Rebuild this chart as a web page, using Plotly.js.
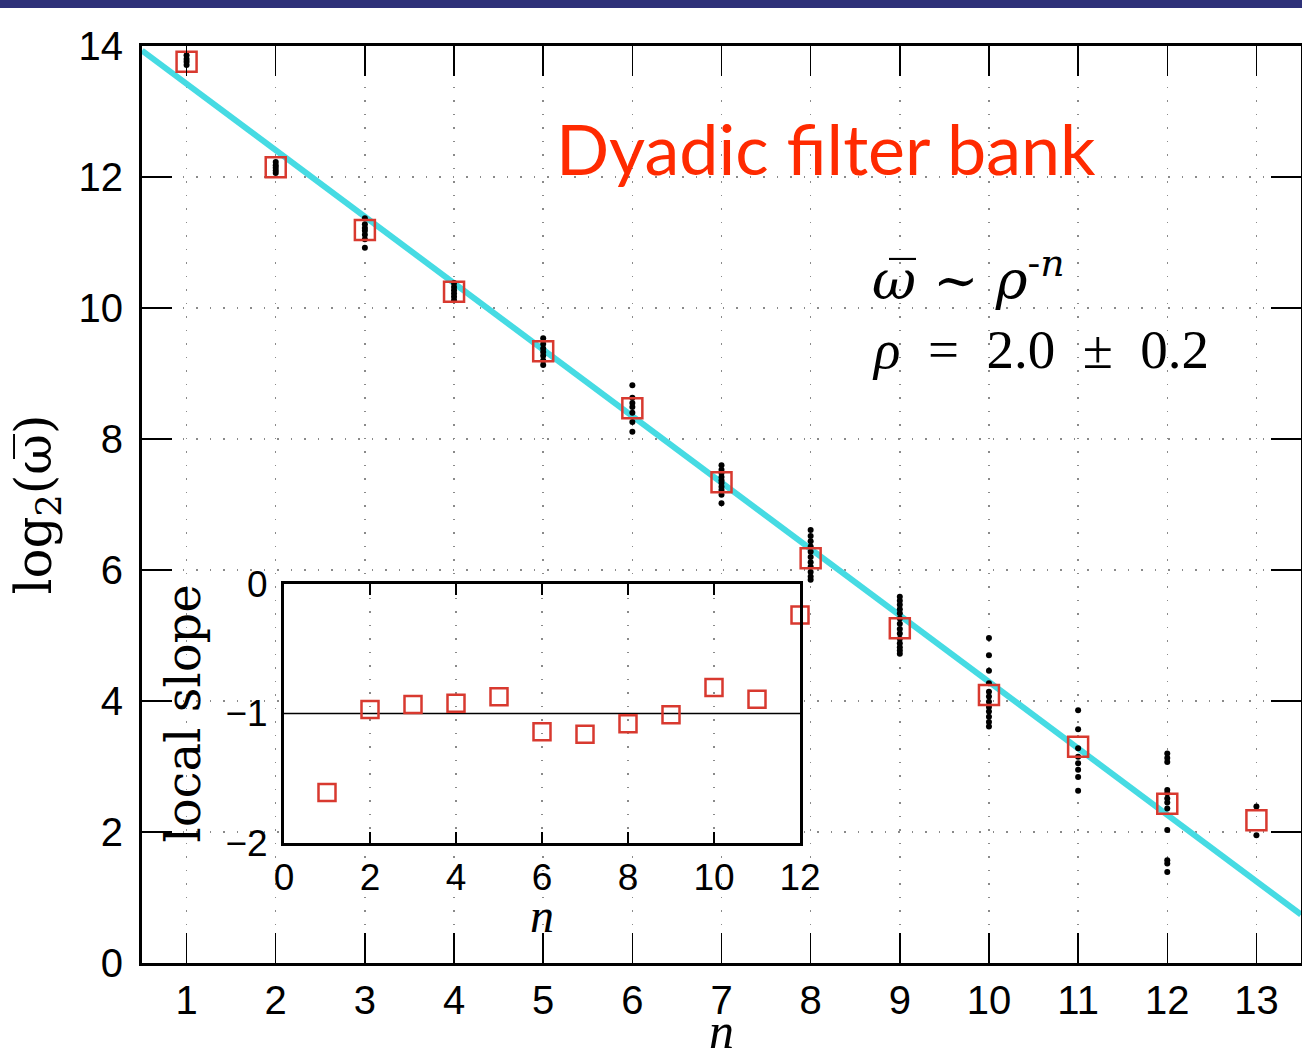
<!DOCTYPE html>
<html>
<head>
<meta charset="utf-8">
<script src="https://cdn.plot.ly/plotly-3.0.1.min.js"></script>
<style>
  html, body { margin: 0; padding: 0; background: #ffffff; }
  #chart { width: 1302px; height: 1061px; }
</style>
</head>
<body>
<div id="chart"></div>
<script>
// ---- data ----
const nValues = [1, 2, 3, 4, 5, 6, 7, 8, 9, 10, 11, 12, 13];
const meanLog2 = [13.76, 12.15, 11.19, 10.25, 9.34, 8.47, 7.34, 6.18, 5.11, 4.09, 3.30, 2.43, 2.18];
const dots_n1 = [13.86, 13.80, 13.76, 13.71];
const dots_n2 = [12.23, 12.18, 12.14, 12.10, 12.06];
const dots_n3 = [11.37, 11.28, 11.22, 11.18, 11.12, 11.05, 10.92];
const dots_n4 = [10.38, 10.32, 10.27, 10.22, 10.17, 10.12];
const dots_n5 = [9.54, 9.45, 9.38, 9.33, 9.27, 9.20, 9.13];
const dots_n6 = [8.82, 8.63, 8.55, 8.49, 8.40, 8.26, 8.11];
const dots_n7 = [7.60, 7.53, 7.48, 7.42, 7.37, 7.33, 7.27, 7.22, 7.15, 7.02];
const dots_n8 = [6.61, 6.52, 6.44, 6.36, 6.28, 6.20, 6.12, 6.05, 5.97, 5.90, 5.85];
const dots_n9 = [5.59, 5.53, 5.47, 5.40, 5.34, 5.26, 5.18, 5.10, 5.03, 4.95, 4.88, 4.82, 4.77, 4.72];
const dots_n10 = [4.96, 4.70, 4.46, 4.27, 4.14, 4.07, 3.99, 3.91, 3.84, 3.76, 3.68, 3.61];
const dots_n11 = [3.86, 3.57, 3.28, 3.15, 3.05, 2.95, 2.84, 2.63];
const dots_n12 = [3.20, 3.13, 3.07, 2.64, 2.59, 2.51, 2.45, 2.36, 2.03, 1.57, 1.52, 1.39];
const dots_n13 = [2.39, 1.95];
const fitN = [0.5, 13.5];
const fitLog2 = [13.93, 0.74];
const insetN = [1, 2, 3, 4, 5, 6, 7, 8, 9, 10, 11, 12];
const localSlope = [-1.61, -0.97, -0.93, -0.92, -0.87, -1.14, -1.16, -1.08, -1.01, -0.80, -0.89, -0.24];
const insetRefN = [0, 12];
const insetRefSlope = [-1, -1];
const mainXTicks = [1, 2, 3, 4, 5, 6, 7, 8, 9, 10, 11, 12, 13];
const mainYTicks = [0, 2, 4, 6, 8, 10, 12, 14];
const insetXTicks = [0, 2, 4, 6, 8, 10, 12];
const insetYTicks = [-2, -1, 0];

// ---- build traces ----
const allDots = [dots_n1, dots_n2, dots_n3, dots_n4, dots_n5, dots_n6, dots_n7,
                 dots_n8, dots_n9, dots_n10, dots_n11, dots_n12, dots_n13];
const dotX = [], dotY = [];
allDots.forEach((arr, i) => arr.forEach(v => { dotX.push(nValues[i]); dotY.push(v); }));

const RED = '#d8392f';
const traces = [
  { x: fitN, y: fitLog2, type: 'scatter', mode: 'lines', xaxis: 'x', yaxis: 'y',
    line: { color: '#46dbe3', width: 6 }, hoverinfo: 'skip', showlegend: false },
  { x: dotX, y: dotY, type: 'scatter', mode: 'markers', xaxis: 'x', yaxis: 'y',
    marker: { color: '#000000', size: 6 }, showlegend: false },
  { x: nValues, y: meanLog2, type: 'scatter', mode: 'markers', xaxis: 'x', yaxis: 'y',
    marker: { symbol: 'square-open', color: RED, size: 20, line: { width: 2.5, color: RED } },
    showlegend: false, cliponaxis: false },
  { x: insetRefN, y: insetRefSlope, type: 'scatter', mode: 'lines', xaxis: 'x2', yaxis: 'y2',
    line: { color: '#000000', width: 1.5 }, showlegend: false, hoverinfo: 'skip' },
  { x: insetN, y: localSlope, type: 'scatter', mode: 'markers', xaxis: 'x2', yaxis: 'y2',
    marker: { symbol: 'square-open', color: RED, size: 17, line: { width: 2.5, color: RED } },
    showlegend: false, cliponaxis: false }
];

const W = 1302, H = 1061, ML = 142, MR = 1, MT = 46, MB = 98;
const PW = W - ML - MR, PH = H - MT - MB;
const px = v => (v - ML) / PW;          // pixel -> paper x
const py = v => (H - MB - v) / PH;      // pixel -> paper y

const tickFont = { family: 'Liberation Sans, Arial, sans-serif', size: 40, color: '#000' };
const gridDash = '1.5px,12px';
const SERIF = 'Liberation Serif';
const DSERIF = 'DejaVu Serif';

const layout = {
  width: W, height: H,
  margin: { l: ML, r: MR, t: MT, b: MB, pad: 0 },
  paper_bgcolor: '#ffffff', plot_bgcolor: '#ffffff',
  showlegend: false,
  xaxis: {
    range: [0.5, 13.5], tickvals: mainXTicks, ticktext: mainXTicks.map(String),
    ticks: 'inside', ticklen: 30, tickwidth: 1.5, tickcolor: '#000',
    showline: true, linewidth: 3, linecolor: '#000', mirror: 'ticks',
    showgrid: true, gridcolor: '#8a8a8a', gridwidth: 1.5, griddash: gridDash,
    zeroline: false, tickfont: tickFont, ticklabelstandoff: 0,
    title: { text: '' }
  },
  yaxis: {
    range: [0, 14], tickvals: mainYTicks, ticktext: mainYTicks.map(String),
    ticks: 'inside', ticklen: 30, tickwidth: 1.5, tickcolor: '#000',
    showline: true, linewidth: 3, linecolor: '#000', mirror: 'ticks',
    showgrid: true, gridcolor: '#8a8a8a', gridwidth: 1.5, griddash: gridDash,
    zeroline: false, tickfont: tickFont, ticklabelstandoff: 8,
    title: { text: 'log<sub>2</sub>(ω\u0305)', font: { family: DSERIF, size: 50, color: '#000' }, standoff: 12 }
  },
  xaxis2: {
    domain: [px(284), px(800)], anchor: 'y2',
    range: [0, 12], tickvals: insetXTicks, ticktext: insetXTicks.map(String),
    ticks: 'inside', ticklen: 11, tickwidth: 1.5, tickcolor: '#000',
    showline: true, linewidth: 3, linecolor: '#000', mirror: 'ticks',
    showgrid: true, gridcolor: '#8a8a8a', gridwidth: 1.5, griddash: gridDash,
    zeroline: false, tickfont: { family: 'Liberation Sans, Arial, sans-serif', size: 37, color: '#000' },
    ticklabelstandoff: 0,
    title: { text: '' }
  },
  yaxis2: {
    domain: [py(843), py(584)], anchor: 'x2',
    range: [-2, 0], tickvals: insetYTicks, ticktext: ['\u22122', '\u22121', '0'],
    ticks: 'inside', ticklen: 11, tickwidth: 1.5, tickcolor: '#000',
    showline: true, linewidth: 3, linecolor: '#000', mirror: 'ticks',
    showgrid: false, zeroline: false,
    tickfont: { family: 'Liberation Sans, Arial, sans-serif', size: 37, color: '#000' },
    ticklabelstandoff: 6,
    title: { text: 'local slope', font: { family: DSERIF, size: 48, color: '#000' }, standoff: 10 }
  },
  shapes: [
    { type: 'rect', xref: 'x2', yref: 'y2', x0: 0, x1: 12, y0: -2, y1: 0,
      fillcolor: '#ffffff', line: { width: 0 }, layer: 'below' },
    { type: 'rect', xref: 'paper', yref: 'paper', x0: px(0), x1: px(W), y0: py(8), y1: py(0),
      fillcolor: '#2e3179', line: { width: 0 }, layer: 'above' }
  ],
  annotations: [
    { xref: 'paper', yref: 'paper', x: px(721), y: py(1060), xanchor: 'center', yanchor: 'bottom',
      text: '<i>n</i>', showarrow: false, borderpad: 0,
      font: { family: SERIF, size: 50, color: '#000' } },
    { xref: 'paper', yref: 'paper', x: px(542), y: py(915), xanchor: 'center', yanchor: 'middle',
      text: '<i>n</i>', showarrow: false, borderpad: 0,
      font: { family: SERIF, size: 48, color: '#000' } },
    { xref: 'paper', yref: 'paper', x: px(826), y: py(148), xanchor: 'center', yanchor: 'middle',
      text: 'Dyadic filter bank', showarrow: false,
      font: { family: 'Comic Sans MS, Lato, sans-serif', size: 70, color: '#ff2a00' } },
    { xref: 'paper', yref: 'paper', x: px(870), y: py(276), xanchor: 'left', yanchor: 'middle',
      text: '<i>ω\u0305</i> ∼ <i>ρ</i><sup>-<i>n</i></sup>', showarrow: false,
      font: { family: DSERIF, size: 54, color: '#000' } },
    { xref: 'paper', yref: 'paper', x: px(870), y: py(350), xanchor: 'left', yanchor: 'middle',
      text: '<i>ρ</i>\u2002=\u20022.0\u2002±\u20020.2', showarrow: false,
      font: { family: SERIF, size: 55, color: '#000' } }
  ]
};

Plotly.newPlot('chart', traces, layout, { staticPlot: true, displayModeBar: false });
</script>
</body>
</html>
